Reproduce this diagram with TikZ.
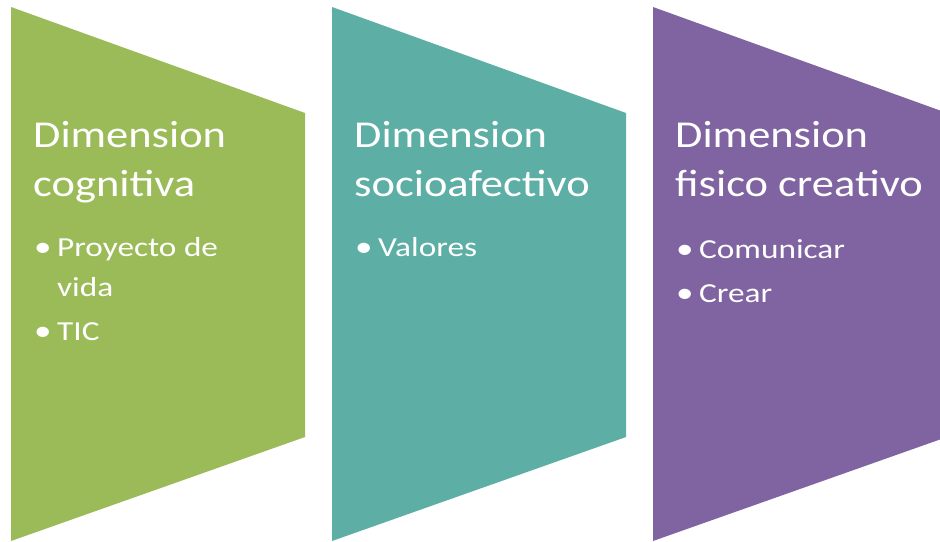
\documentclass[tikz,border=0pt]{standalone}
\usepackage{fontspec}
\setmainfont{Carlito}
\newfontfamily\cfont[FakeStretch=1.17]{Carlito}
\newfontfamily\ifont[FakeStretch=1.21]{Carlito}
\definecolor{cgreen}{HTML}{9BBB59}
\definecolor{cteal}{HTML}{5DAEA5}
\definecolor{cpurple}{HTML}{8064A2}
\tikzset{
  title/.style={anchor=base west, inner sep=0pt, text=white, font=\cfont\fontsize{38}{46}\selectfont},
  item/.style={anchor=base west, inner sep=0pt, text=white, font=\ifont\fontsize{27.5}{33}\selectfont},
  bul/.style={anchor=base west, inner sep=0pt, text=white, font=\ifont\fontsize{29}{33}\selectfont},
}
\begin{document}
\begin{tikzpicture}[x=1pt,y=-1pt]
\useasboundingbox (0,0) rectangle (940,541);
\begin{scope}
\clip (0,0) rectangle (940,541);
\fill[cgreen]  (11,7) -- (305,113) -- (305,437) -- (11,541) -- cycle;
\fill[cteal]   (332,7) -- (626,113) -- (626,437) -- (332,541) -- cycle;
\fill[cpurple] (653,7) -- (947,113) -- (947,437) -- (653,541) -- cycle;
\end{scope}
% green
\node[title] (g1) at (33,147) {Dimension};
\node[title] (g2) at (33,196.5) {cognitiva};
\node[bul]   (gb1) at (34,256) {•};
\node[item]  (gi1) at (57,256) {Proyecto de};
\node[item]  (gi2) at (57,296) {vida};
\node[bul]   (gb2) at (34,340) {•};
\node[item]  (gi3) at (57,340) {TIC};
% teal
\node[title] (t1) at (354,147) {Dimension};
\node[title] (t2) at (354,196.5) {socioafectivo};
\node[bul]   (tb1) at (355,256) {•};
\node[item]  (ti1) at (378,256) {Valores};
% purple
\node[title] (p1) at (675,147) {Dimension};
\node[title] (p2) at (675,196.5) {fisico creativo};
\node[bul]   (pb1) at (676,258) {•};
\node[item]  (pi1) at (699,258) {Comunicar};
\node[bul]   (pb2) at (676,302) {•};
\node[item]  (pi2) at (699,302) {Crear};
\end{tikzpicture}
\end{document}
